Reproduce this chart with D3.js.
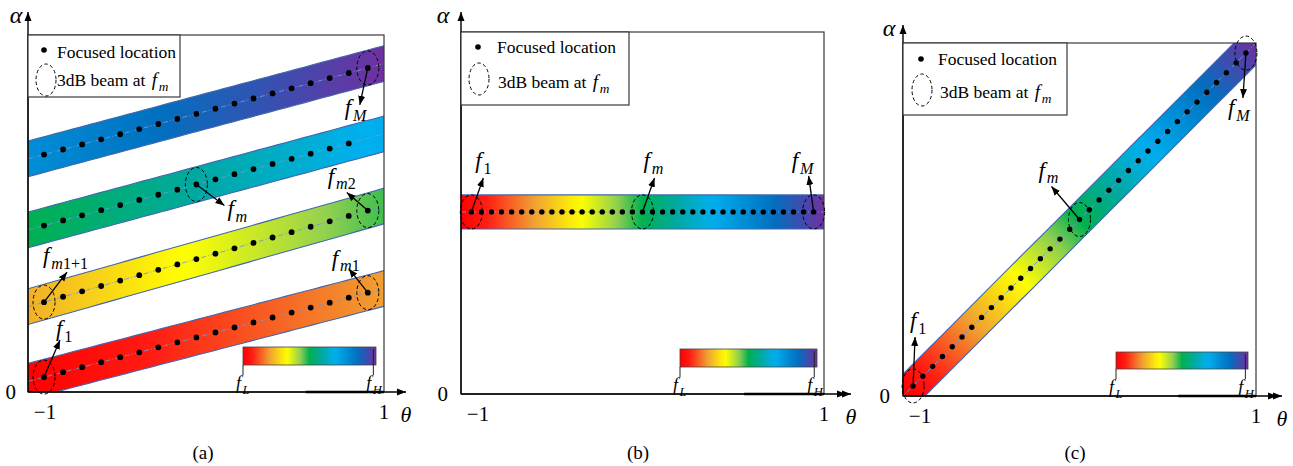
<!DOCTYPE html>
<html>
<head>
<meta charset="utf-8">
<script src="https://cdn.jsdelivr.net/npm/d3@7"></script>
<style>
body { margin: 0; background: #fff; }
</style>
</head>
<body>
<svg id="fig" width="1293" height="466" font-family="'Liberation Serif', 'DejaVu Serif', serif"></svg>
<script>
// frequency colour map, fL = 0 .. fH = 1
var freqStops = [0, 0.07, 0.2, 0.33, 0.43, 0.5, 0.6, 0.69, 0.86, 1];
var freqColors = ["#ff0000", "#ff1c14", "#f0a032", "#ffff00", "#92d050", "#00b050", "#00a9a5", "#00b0f0", "#0070c0", "#7030a0"];

// (a) four parallel stripes: alpha of the stripe centre at theta = -1 and theta = 1
var stripeAlphaStart = [0.03, 0.239, 0.454, 0.653];
var stripeAlphaEnd = [0.29, 0.521, 0.723, 0.92];
var stripeFreqStart = [0, 0.22, 0.5, 0.78];
var stripeFreqEnd = [0.2, 0.47, 0.7, 1];
var stripeDotCount = [18, 18, 17, 18];
var stripeThetaFirst = -0.91, stripeThetaStep = 0.107;
var stripeHalfWidth = 0.05;

// (b) one flat band, (c) one diagonal band alpha = (theta+1)/2
var flatAlpha = 0.503, flatHalfWidth = 0.047;
var diagHalfWidth = 0.062;
var bandDotCount = 35, bandThetaFirst = -0.943, bandThetaLast = 0.943;

// annotated beams: [stripe, dot index, subscript]
var notesA = [[3, 17, "M"], [2, 8, "m"], [1, 17, "m2"], [1, 0, "m1+1"], [0, 17, "m1"], [0, 0, "1"]];
var notesB = [[0, 0, "1"], [0, 17, "m"], [0, 34, "M"]];
var notesC = [[0, 34, "M"], [0, 17, "m"], [0, 0, "1"]];

var legendLabels = ["Focused location", "3dB beam at "];
var panelLetters = ["(a)", "(b)", "(c)"];
var thetaTickLabels = ["\u22121", "1"];

var svg = d3.select("#fig");
var defs = svg.append("defs");
var freqColor = d3.scaleLinear().domain(freqStops).range(freqColors);

defs.append("marker").attr("id", "head")
  .attr("markerUnits", "userSpaceOnUse")
  .attr("markerWidth", 10).attr("markerHeight", 8)
  .attr("refX", 9).attr("refY", 4).attr("orient", "auto")
  .append("path").attr("d", "M0,0.5L9,4L0,7.5z").attr("fill", "#000");

var gradCount = 0;
function gradient(f0, f1, x1, y1, x2, y2) {
  var id = "g" + (gradCount++);
  var g = defs.append("linearGradient").attr("id", id)
    .attr("gradientUnits", "userSpaceOnUse")
    .attr("x1", x1).attr("y1", y1).attr("x2", x2).attr("y2", y2);
  d3.range(31).forEach(function(i) {
    var t = i / 30;
    g.append("stop").attr("offset", t).attr("stop-color", freqColor(f0 + (f1 - f0) * t));
  });
  return "url(#" + id + ")";
}

// f with a subscript: letters italic, digits upright
function mathF(sel, x, y, sub, size) {
  var t = sel.append("text").attr("x", x).attr("y", y).attr("font-size", size);
  t.append("tspan").attr("font-style", "italic").text("f");
  sub.match(/[A-Za-z]+|[^A-Za-z]+/g).forEach(function(p, i) {
    var s = t.append("tspan").attr("font-size", size * 0.7)
      .attr("font-style", /[A-Za-z]/.test(p) ? "italic" : "normal").text(p);
    if (i === 0) s.attr("dy", size * 0.25).attr("dx", size * 0.08);
  });
  return t;
}

var panels = [
  {left: 28, right: 384, bottom: 392, top: 35, axisTop: 12, axisEnd: 406, dbl: false,
   legend: {w: 152, h: 62, dot: [16, 15], t1: [29, 23], ell: [18, 45], t2: [29, 51]},
   bar: [243, 376, 347, 365], letter: 203, zeroDx: 12, alphaDx: 12},
  {left: 461, right: 824, bottom: 394, top: 32, axisTop: 12, axisEnd: 851, dbl: true,
   legend: {w: 168, h: 73, dot: [17, 15], t1: [36, 21], ell: [18, 47], t2: [37, 56]},
   bar: [680, 817, 349, 367], letter: 638, zeroDx: 13, alphaDx: 18},
  {left: 903, right: 1256, bottom: 396, top: 43, axisTop: 25, axisEnd: 1282, dbl: true,
   legend: {w: 164, h: 72, dot: [18, 16], t1: [35, 22], ell: [19, 47], t2: [37, 55]},
   bar: [1116, 1248, 352, 369], letter: 1075, zeroDx: 13, alphaDx: 14}
];

panels.forEach(function(p, pi) {
  var x = d3.scaleLinear().domain([-1, 1]).range([p.left, p.right]);
  var y = d3.scaleLinear().domain([0, 1]).range([p.bottom, p.top]);
  var g = svg.append("g");
  var clipId = "clip" + pi;
  defs.append("clipPath").attr("id", clipId).append("rect")
    .attr("x", p.left).attr("y", p.top).attr("width", p.right - p.left).attr("height", p.bottom - p.top);
  var plot = g.append("g").attr("clip-path", "url(#" + clipId + ")");

  // bands: each has a centre function, half width, frequency range, dots
  var bands = [];
  if (pi === 0) {
    stripeAlphaStart.forEach(function(a0, k) {
      var a1 = stripeAlphaEnd[k];
      bands.push({
        centre: function(t) { return a0 + (a1 - a0) * (t + 1) / 2; },
        half: stripeHalfWidth, from: -1, to: 1,
        fill: gradient(stripeFreqStart[k], stripeFreqEnd[k], x(-1), 0, x(1), 0),
        dots: d3.range(stripeDotCount[k]).map(function(i) { return stripeThetaFirst + i * stripeThetaStep; })
      });
    });
  } else {
    var bandDots = d3.range(bandDotCount).map(function(i) {
      return bandThetaFirst + (bandThetaLast - bandThetaFirst) * i / (bandDotCount - 1);
    });
    if (pi === 1) {
      bands.push({centre: function() { return flatAlpha; }, half: flatHalfWidth, from: -1, to: 1,
        fill: gradient(0, 1, x(-1), 0, x(1), 0), dots: bandDots});
    } else {
      bands.push({centre: function(t) { return (t + 1) / 2; }, half: diagHalfWidth, from: -1.3, to: 1.3,
        fill: gradient(0, 1, x(-1), y(0), x(1), y(1)), dots: bandDots});
    }
  }

  bands.forEach(function(b) {
    var ts = d3.range(41).map(function(i) { return b.from + (b.to - b.from) * i / 40; });
    plot.append("path").datum(ts)
      .attr("d", d3.area().x(function(t) { return x(t); })
        .y0(function(t) { return y(b.centre(t) - b.half); })
        .y1(function(t) { return y(b.centre(t) + b.half); }))
      .attr("fill", b.fill);
    [-1, 1].forEach(function(s) {
      plot.append("path").datum(ts)
        .attr("d", d3.line().x(function(t) { return x(t); }).y(function(t) { return y(b.centre(t) + s * b.half); }))
        .attr("fill", "none").attr("stroke", "#4266ad").attr("stroke-width", 1.1);
    });
    plot.append("path").datum(ts)
      .attr("d", d3.line().x(function(t) { return x(t); }).y(function(t) { return y(b.centre(t)); }))
      .attr("fill", "none").attr("stroke", "#6e9ad6").attr("stroke-width", 0.9)
      .attr("stroke-dasharray", "5,2,1,2");
    plot.selectAll(null).data(b.dots).enter().append("circle")
      .attr("cx", function(t) { return x(t); })
      .attr("cy", function(t) { return y(b.centre(t)); })
      .attr("r", pi === 0 ? 2.9 : 2.7).attr("fill", "#000");
  });

  // frame and axes
  g.append("rect").attr("x", p.left).attr("y", p.top)
    .attr("width", p.right - p.left).attr("height", p.bottom - p.top)
    .attr("fill", "none").attr("stroke", "#3a3a3a").attr("stroke-width", 1.2);
  g.append("line").attr("x1", p.left).attr("y1", p.bottom).attr("x2", p.left).attr("y2", p.axisTop)
    .attr("stroke", "#000").attr("stroke-width", 1.4).attr("marker-end", "url(#head)");
  g.append("line").attr("x1", p.left).attr("y1", p.bottom).attr("x2", p.axisEnd).attr("y2", p.bottom)
    .attr("stroke", "#000").attr("stroke-width", 1.4).attr("marker-end", "url(#head)");
  // heavier stretch of the theta axis near theta = 1
  g.append("line").attr("x1", x(0.56)).attr("y1", p.bottom).attr("x2", x(1)).attr("y2", p.bottom)
    .attr("stroke", "#000").attr("stroke-width", 2.4);
  if (p.dbl) {
    g.append("line").attr("x1", p.axisEnd - 12).attr("y1", p.bottom).attr("x2", p.axisEnd - 5).attr("y2", p.bottom)
      .attr("stroke", "#000").attr("stroke-width", 1.4).attr("marker-end", "url(#head)");
  }

  g.append("text").attr("x", p.left - p.zeroDx).attr("y", p.bottom + 7)
    .attr("text-anchor", "end").attr("font-size", 21).text("0");
  g.append("text").attr("x", x(-1) + 17).attr("y", p.bottom + 27)
    .attr("text-anchor", "middle").attr("font-size", 21).text(thetaTickLabels[0]);
  g.append("text").attr("x", x(1)).attr("y", p.bottom + 27)
    .attr("text-anchor", "middle").attr("font-size", 21).text(thetaTickLabels[1]);
  g.append("text").attr("x", p.axisEnd).attr("y", p.bottom + 30)
    .attr("text-anchor", "middle").attr("font-size", 22).attr("font-style", "italic").text("\u03b8");
  g.append("text").attr("x", p.left - p.alphaDx).attr("y", p.axisTop + 11)
    .attr("text-anchor", "middle").attr("font-size", 24).attr("font-style", "italic").text("\u03b1");
  g.append("text").attr("x", p.letter).attr("y", 459)
    .attr("text-anchor", "middle").attr("font-size", 19).text(panelLetters[pi]);

  // annotations: dashed 3dB ellipse, arrow and label
  var notes = [notesA, notesB, notesC][pi];
  var offsets = [
    [[-8, 37, -23, 47], [28, 21, 31, 32], [-21, -18, -40, -27], [23, -30, -1, -39], [-19, -24, -36, -27], [16, -37, 12, -41]],
    [[12, -34, 4, -44], [12, -34, 1, -44], [-5, -36, -22, -44]],
    [[-3, 45, -18, 62], [-28, -33, -41, -42], [2, -49, -3, -58]]
  ][pi];
  notes.forEach(function(n, i) {
    var b = bands[n[0]], t = b.dots[n[1]];
    var cx = x(t), cy = y(b.centre(t)), o = offsets[i];
    g.append("ellipse").attr("cx", cx).attr("cy", cy).attr("rx", 11).attr("ry", 17)
      .attr("fill", "none").attr("stroke", "#000").attr("stroke-width", 1).attr("stroke-dasharray", "3.5,2.5");
    g.append("line").attr("x1", cx).attr("y1", cy).attr("x2", cx + o[0]).attr("y2", cy + o[1])
      .attr("stroke", "#000").attr("stroke-width", 1.3).attr("marker-end", "url(#head)");
    mathF(g, cx + o[2], cy + o[3], n[2], 23);
  });

  // legend box
  var L = p.legend, lg = g.append("g").attr("transform", "translate(" + p.left + "," + p.top + ")");
  lg.append("rect").attr("width", L.w).attr("height", L.h)
    .attr("fill", "#fff").attr("stroke", "#3a3a3a").attr("stroke-width", 1.2);
  lg.append("circle").attr("cx", L.dot[0]).attr("cy", L.dot[1]).attr("r", 2.8).attr("fill", "#000");
  lg.append("text").attr("x", L.t1[0]).attr("y", L.t1[1]).attr("font-size", 17.5).text(legendLabels[0]);
  lg.append("ellipse").attr("cx", L.ell[0]).attr("cy", L.ell[1]).attr("rx", 10).attr("ry", 16)
    .attr("fill", "none").attr("stroke", "#000").attr("stroke-width", 1).attr("stroke-dasharray", "3.5,2.5");
  var t2 = lg.append("text").attr("x", L.t2[0]).attr("y", L.t2[1]).attr("font-size", 17.5)
    .attr("xml:space", "preserve").style("white-space", "pre").text(legendLabels[1]);
  var w2 = t2.node().getComputedTextLength();
  mathF(lg, L.t2[0] + w2 + 2, L.t2[1], "m", 19);

  // colour bar fL .. fH
  var bx = d3.scaleLinear().domain([0, 1]).range([p.bar[0], p.bar[1]]);
  g.append("rect").attr("x", bx(0)).attr("y", p.bar[2])
    .attr("width", bx(1) - bx(0)).attr("height", p.bar[3] - p.bar[2])
    .attr("fill", gradient(0, 1, bx(0), 0, bx(1), 0))
    .attr("stroke", "#444").attr("stroke-width", 0.8);
  [0, 0.98].forEach(function(f, i) {
    g.append("line").attr("x1", bx(f)).attr("x2", bx(f))
      .attr("y1", i ? p.bar[2] + 2 : p.bar[3]).attr("y2", p.bar[3] + 10)
      .attr("stroke", "#222").attr("stroke-width", 1);
    mathF(g, bx(f) - 7, p.bar[3] + 24, i ? "H" : "L", 18);
  });
});
</script>
</body>
</html>
